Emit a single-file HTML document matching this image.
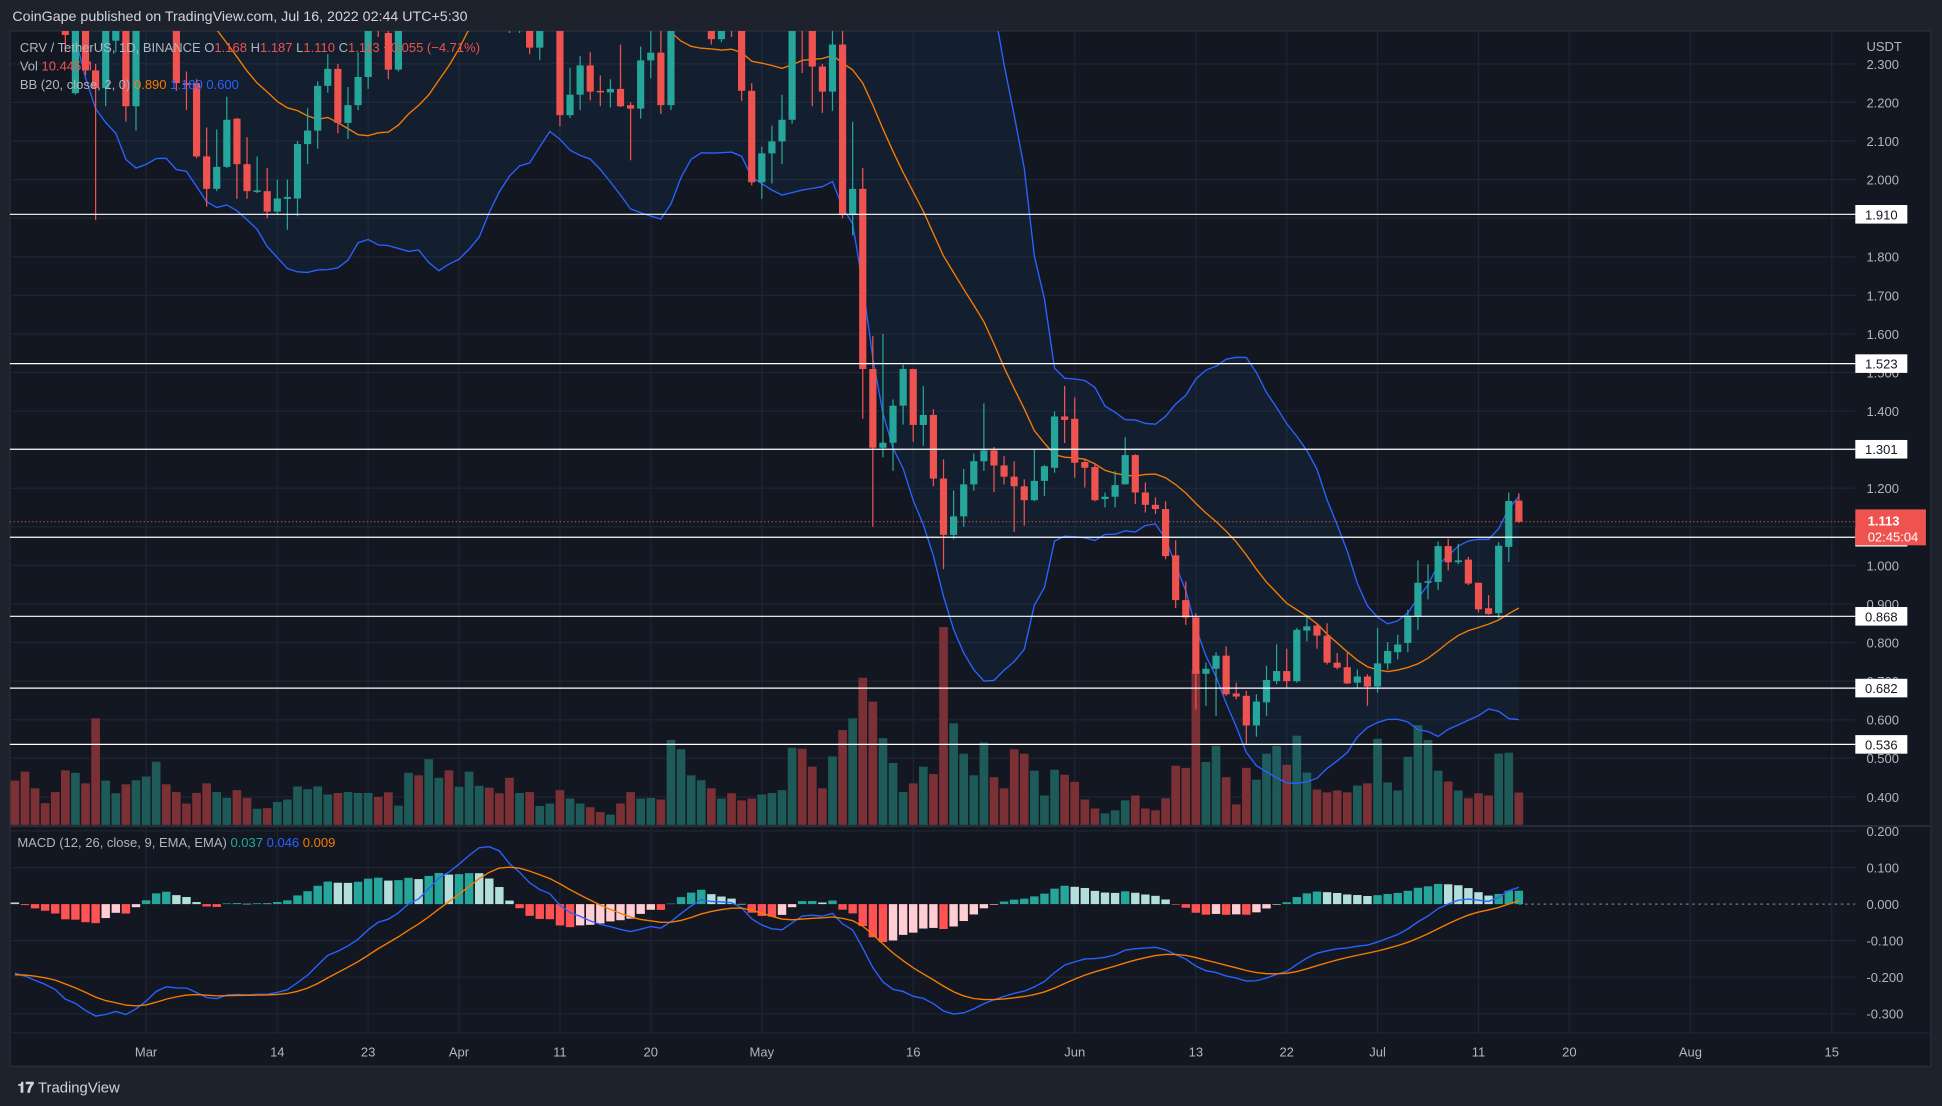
<!DOCTYPE html>
<html><head><meta charset="utf-8">
<style>
html,body{margin:0;padding:0;background:#1e222d;}
svg{display:block;font-family:"Liberation Sans",sans-serif;}
</style></head>
<body>
<svg id="chart" width="1942" height="1106" viewBox="0 0 1568 893" xmlns="http://www.w3.org/2000/svg">
<defs>
<clipPath id="pclip"><rect x="8" y="25" width="1490" height="642"/></clipPath>
<clipPath id="mclip"><rect x="8" y="667" width="1490" height="167"/></clipPath>
</defs>
<rect x="0" y="0" width="1568" height="893" fill="#1e222d"/>
<text x="10" y="17" fill="#d1d4dc" font-size="11.5">CoinGape published on TradingView.com, Jul 16, 2022 02:44 UTC+5:30</text>
<rect x="8" y="25" width="1551" height="836" fill="#131722" stroke="#2a2e39" stroke-width="1"/>
<g id="grid"></g>
<g id="volume" clip-path="url(#pclip)"></g>
<g id="bb" clip-path="url(#pclip)"></g>
<g id="candles" clip-path="url(#pclip)"></g>
<line x1="8" y1="667" x2="1559" y2="667" stroke="#2a2e39" stroke-width="1.5"/>
<g id="macd" clip-path="url(#mclip)"></g>
<g id="axes"></g>
<g id="levels"></g>
<g font-size="10.5">
<text x="16" y="42" fill="#b2b5be">CRV / TetherUS, 1D, BINANCE <tspan fill="#b2b5be">O</tspan><tspan fill="#ef5350">1.168</tspan> <tspan fill="#b2b5be">H</tspan><tspan fill="#ef5350">1.187</tspan> <tspan fill="#b2b5be">L</tspan><tspan fill="#ef5350">1.110</tspan> <tspan fill="#b2b5be">C</tspan><tspan fill="#ef5350">1.113</tspan> <tspan fill="#ef5350">−0.055 (−4.71%)</tspan></text>
<text x="16" y="57" fill="#b2b5be">Vol <tspan fill="#ef5350">10.445M</tspan></text>
<text x="16" y="72" fill="#b2b5be">BB (20, close, 2, 0) <tspan fill="#f57c00">0.890</tspan> <tspan fill="#2962ff">1.180</tspan> <tspan fill="#2962ff">0.600</tspan></text>
</g>
<text x="14" y="684" font-size="10.5" fill="#b2b5be">MACD (12, 26, close, 9, EMA, EMA) <tspan fill="#26a69a">0.037</tspan> <tspan fill="#2962ff">0.046</tspan> <tspan fill="#f57c00">0.009</tspan></text>
<text x="14" y="882" font-size="12" fill="#d1d4dc" font-weight="bold">𝟏𝟕 <tspan font-weight="normal">TradingView</tspan></text>
</svg>
<script>
const opens=[3.05,2.95,2.85,2.75,2.70,2.60,2.224,2.42,2.283,2.237,2.36,2.42,2.19,2.42,2.50,2.58,2.45,2.25,2.25,2.06,1.976,2.033,2.158,2.04,1.968,1.97,1.917,1.95,1.951,2.092,2.127,2.243,2.287,2.147,2.193,2.266,2.40,2.38,2.285,2.42,2.55,2.48,2.70,2.80,2.72,2.85,2.95,3.00,2.85,2.70,2.40,2.45,2.342,2.42,2.45,2.167,2.22,2.296,2.23,2.226,2.235,2.193,2.184,2.309,2.329,2.193,2.45,2.55,2.58,2.45,2.364,2.42,2.45,2.23,1.993,2.068,2.099,2.155,2.50,2.45,2.293,2.228,2.35,1.908,1.976,1.509,1.305,1.318,1.414,1.509,1.364,1.39,1.225,1.079,1.127,1.21,1.27,1.298,1.259,1.23,1.205,1.169,1.219,1.253,1.386,1.38,1.268,1.255,1.172,1.178,1.21,1.286,1.189,1.157,1.146,1.026,0.91,0.865,0.719,0.732,0.766,0.668,0.662,0.585,0.645,0.70,0.726,0.70,0.831,0.844,0.818,0.748,0.736,0.696,0.712,0.686,0.746,0.775,0.799,0.868,0.955,0.957,1.05,1.008,1.015,0.955,0.889,0.876,1.048,1.168];
const highs=[3.12,3.0,2.92,2.80,2.74,2.62,2.48,2.46,2.30,2.45,2.44,2.44,2.45,2.55,2.62,2.60,2.47,2.28,2.26,2.135,2.13,2.215,2.16,2.11,2.06,2.03,2.0,2.0,2.10,2.185,2.255,2.325,2.30,2.24,2.33,2.45,2.45,2.40,2.44,2.60,2.60,2.75,2.85,2.84,2.90,3.00,3.05,3.02,2.88,2.72,2.50,2.47,2.41,2.50,2.47,2.29,2.32,2.33,2.27,2.26,2.35,2.20,2.345,2.39,2.40,2.50,2.60,2.62,2.65,2.45,2.42,2.46,2.48,2.25,2.085,2.14,2.22,2.45,2.55,2.47,2.30,2.39,2.40,2.15,2.03,1.595,1.60,1.43,1.52,1.51,1.465,1.405,1.275,1.194,1.25,1.29,1.42,1.307,1.283,1.27,1.223,1.30,1.26,1.399,1.465,1.435,1.275,1.266,1.189,1.244,1.332,1.288,1.215,1.176,1.166,1.065,0.958,0.876,0.748,0.775,0.79,0.696,0.675,0.666,0.74,0.795,0.784,0.838,0.872,0.85,0.85,0.773,0.773,0.73,0.718,0.838,0.801,0.82,0.885,1.013,1.003,1.062,1.069,1.056,1.022,0.955,0.923,1.06,1.189,1.187];
const lows=[2.92,2.80,2.72,2.62,2.55,2.33,2.22,2.27,1.895,2.19,2.33,2.15,2.127,2.40,2.45,2.43,2.23,2.18,2.055,1.93,1.97,2.03,1.95,1.95,1.965,1.90,1.91,1.87,1.905,2.04,2.08,2.225,2.12,2.105,2.18,2.235,2.37,2.26,2.28,2.40,2.44,2.46,2.66,2.66,2.70,2.82,2.90,2.80,2.66,2.38,2.38,2.325,2.31,2.40,2.138,2.16,2.18,2.205,2.19,2.187,2.188,2.05,2.158,2.263,2.17,2.18,2.43,2.48,2.50,2.35,2.356,2.37,2.204,1.985,1.95,1.99,2.04,2.145,2.276,2.19,2.173,2.178,1.90,1.855,1.38,1.10,1.28,1.245,1.365,1.32,1.31,1.205,0.99,1.068,1.10,1.193,1.245,1.19,1.21,1.087,1.103,1.166,1.18,1.24,1.317,1.227,1.202,1.166,1.15,1.15,1.21,1.159,1.137,1.133,1.016,0.889,0.846,0.627,0.636,0.61,0.662,0.653,0.538,0.556,0.61,0.692,0.683,0.696,0.803,0.784,0.743,0.73,0.692,0.683,0.636,0.67,0.73,0.756,0.775,0.832,0.912,0.936,0.987,1.003,0.949,0.878,0.872,0.863,1.009,1.110];
const closes=[2.95,2.85,2.75,2.70,2.60,2.375,2.45,2.283,2.237,2.40,2.42,2.19,2.42,2.50,2.58,2.45,2.25,2.245,2.06,1.976,2.033,2.155,2.04,1.97,1.972,1.917,1.951,1.955,2.092,2.127,2.243,2.287,2.147,2.193,2.266,2.40,2.395,2.285,2.42,2.55,2.48,2.70,2.80,2.72,2.85,2.95,3.00,2.85,2.70,2.40,2.46,2.342,2.40,2.45,2.167,2.22,2.296,2.228,2.226,2.235,2.19,2.184,2.309,2.329,2.193,2.45,2.55,2.58,2.60,2.364,2.40,2.39,2.23,1.993,2.068,2.099,2.155,2.41,2.45,2.293,2.228,2.35,1.908,1.976,1.509,1.305,1.318,1.414,1.509,1.364,1.39,1.225,1.079,1.127,1.21,1.27,1.298,1.259,1.23,1.205,1.169,1.219,1.257,1.386,1.377,1.266,1.253,1.169,1.178,1.208,1.286,1.189,1.157,1.146,1.024,0.91,0.865,0.719,0.732,0.766,0.666,0.66,0.585,0.647,0.703,0.726,0.70,0.833,0.842,0.818,0.748,0.735,0.694,0.712,0.686,0.746,0.778,0.795,0.868,0.955,0.959,1.05,1.008,1.013,0.953,0.886,0.874,1.051,1.167,1.113];
const volumes=[14.3,17.2,11.8,7.0,10.6,17.6,16.8,13.4,34.4,14.3,10.2,13.1,14.4,15.6,20.4,13.1,10.6,6.9,10.3,13.4,10.6,8.7,11.2,8.7,5.2,5.4,7.4,8.2,12.4,11.5,12.4,9.8,10.3,10.6,10.3,10.3,9.0,10.5,6.2,16.8,16.0,21.2,15.2,17.6,12.3,17.2,12.6,12.0,10.2,15.2,10.3,10.6,6.1,6.9,11.2,8.5,6.9,5.7,4.1,3.3,6.9,10.6,8.5,8.7,8.2,27.4,24.4,16.0,14.4,11.8,8.5,10.2,7.9,8.5,9.8,10.3,11.2,24.9,24.6,18.8,11.8,22.1,30.6,34.4,47.5,39.8,28.0,20.0,10.6,13.4,18.8,16.4,63.9,32.8,23.0,16.0,26.6,15.4,11.8,24.4,23.0,17.5,9.5,17.8,16.2,13.9,8.2,5.3,3.7,4.7,7.9,9.5,5.3,4.7,8.6,19.1,18.4,49.9,20.3,25.5,15.4,6.6,18.4,14.6,23.0,25.5,19.4,28.8,16.9,11.4,10.5,11.1,10.5,12.7,13.4,27.8,13.7,11.1,22.0,32.2,27.4,17.5,14.0,11.1,8.6,10.2,9.5,23.0,23.3,10.445];
// warm-up closes (Jan 2 - Feb 15) for indicator calculation only
const preCloses=[4.6,4.7,4.8,4.9,5.0,4.8,4.6,4.5,4.4,4.3,4.5,4.6,4.5,4.4,4.3,4.2,4.1,4.0,3.9,3.6,3.2,3.0,2.8,2.7,2.9,3.0,3.1,3.0,3.1,3.2,3.3,3.4,3.5,3.6,3.5,3.4,3.3,3.2,3.3,3.2,3.1,3.0,3.1,3.0,3.0];
const priceTicks=[2.3,2.2,2.1,2.0,1.9,1.8,1.7,1.6,1.5,1.4,1.3,1.2,1.1,1.0,0.9,0.8,0.7,0.6,0.5,0.4];
const macdTicks=[0.2,0.1,0,-0.1,-0.2,-0.3];
const levelValues=[1.910,1.523,1.301,1.073,0.868,0.682,0.536];
const dateLabels=["Mar","14","23","Apr","11","20","May","16","Jun","13","22","Jul","11","20","Aug","15"];
const dateOffsets=[13,26,35,44,54,63,74,89,105,117,126,135,145,154,166,180];
const lastPrice=1.113;

const NS="http://www.w3.org/2000/svg";
function mk(tag,attrs,parent){const e=document.createElementNS(NS,tag);for(const k in attrs)e.setAttribute(k,attrs[k]);parent.appendChild(e);return e;}
const xAt=i=>12+8.15*i;
const py=p=>145+(2.0-p)*311.5;
const my=v=>730-v*295;
const volY=v=>666-v*2.5;

const grid=document.getElementById('grid');
dateOffsets.forEach(d=>{const l=mk('line',{x1:xAt(d),x2:xAt(d),y1:25,y2:834,stroke:'#1f2433','stroke-width':1},grid);

});
priceTicks.forEach(p=>{const l=mk('line',{x1:8,x2:1498,y1:py(p),y2:py(p),stroke:'#1f2433','stroke-width':1},grid);

});
macdTicks.forEach(v=>{if(v===0)return;const l=mk('line',{x1:8,x2:1498,y1:my(v),y2:my(v),stroke:'#1f2433','stroke-width':1},grid);

});

// volume
const vg=document.getElementById('volume');
volumes.forEach((v,i)=>{const up=closes[i]>=opens[i];
const r=mk('rect',{x:xAt(i)-3.5,y:volY(v),width:7,height:666-volY(v),fill:up?'#1e5b58':'#7a3035'},vg);

});

// indicators
const all=preCloses.concat(closes);const off=preCloses.length;
const upper=[],lower=[],basis=[];
for(let i=0;i<closes.length;i++){const j=i+off;const w=all.slice(j-19,j+1);const m=w.reduce((a,b)=>a+b,0)/20;
const sd=Math.sqrt(w.reduce((a,b)=>a+(b-m)*(b-m),0)/20);basis.push(m);upper.push(m+2*sd);lower.push(m-2*sd);}
const bg=document.getElementById('bb');
let fillPts=upper.map((u,i)=>xAt(i)+','+py(u)).concat(lower.map((l,i)=>xAt(i)+','+py(l)).reverse());
const fp=mk('polygon',{points:fillPts.join(' '),fill:'rgba(33,150,243,0.06)'},bg);


[[upper,'#2962ff','bb-upper-line'],[lower,'#2962ff','bb-lower-line'],[basis,'#f57c00','bb-basis-line']].forEach(([arr,c,n])=>{
const pl=mk('polyline',{points:arr.map((v,i)=>xAt(i)+','+py(v)).join(' '),fill:'none',stroke:c,'stroke-width':1.1},bg);

});

// candles
const cg=document.getElementById('candles');
closes.forEach((c,i)=>{const o=opens[i];const up=c>=o;const col=up?'#26a69a':'#ef5350';const x=xAt(i);
const g=mk('g',{},cg);


mk('line',{x1:x,x2:x,y1:py(highs[i]),y2:py(lows[i]),stroke:col,'stroke-width':1},g);
const top=py(Math.max(o,c)),bot=py(Math.min(o,c));
mk('rect',{x:x-2.9,y:top,width:5.8,height:Math.max(1,bot-top),fill:col},g);});

// MACD
function ema(arr,n){const k=2/(n+1);const out=[];let e=arr[0];arr.forEach((v,i)=>{e=i===0?v:v*k+e*(1-k);out.push(e);});return out;}
const e12=ema(all,12),e26=ema(all,26);const macdAll=e12.map((v,i)=>v-e26[i]);const sigAll=ema(macdAll,9);
const macdLine=macdAll.slice(off),sigLine=sigAll.slice(off);const hist=macdLine.map((v,i)=>v-sigLine[i]);
const mg=document.getElementById('macd');
const zl=mk('line',{x1:xAt(149),x2:1498,y1:my(0),y2:my(0),stroke:'#787b86','stroke-width':1,'stroke-dasharray':'2,3'},mg);


hist.forEach((h,i)=>{const prev=i>0?hist[i-1]:h;let col;
if(h>=0)col=h>prev?'#26a69a':'#b2dfdb';else col=h<prev?'#ff5252':'#ffcdd2';
const y0=my(0),y1=my(h);
const r=mk('rect',{x:xAt(i)-3.4,y:Math.min(y0,y1),width:6.8,height:Math.max(0.5,Math.abs(y1-y0)),fill:col},mg);

});
const ml=mk('polyline',{points:macdLine.map((v,i)=>xAt(i)+','+my(v)).join(' '),fill:'none',stroke:'#2962ff','stroke-width':1.1},mg);


const sl=mk('polyline',{points:sigLine.map((v,i)=>xAt(i)+','+my(v)).join(' '),fill:'none',stroke:'#f57c00','stroke-width':1.1},mg);



// axes
const ax=document.getElementById('axes');
const usdt=mk('text',{x:1507,y:41,fill:'#b2b5be','font-size':10.5},ax);usdt.textContent='USDT';


priceTicks.forEach(p=>{const t=mk('text',{x:1507,y:py(p)+4,fill:'#b2b5be','font-size':10.5},ax);t.textContent=p.toFixed(3);

});
macdTicks.forEach(v=>{const t=mk('text',{x:1507,y:my(v)+4,fill:'#b2b5be','font-size':10.5},ax);t.textContent=(v<0?'-':'')+Math.abs(v).toFixed(3);

});
dateLabels.forEach((d,k)=>{const t=mk('text',{x:xAt(dateOffsets[k]),y:853,fill:'#b2b5be','font-size':10.5,'text-anchor':'middle'},ax);t.textContent=d;

});
const tsep=mk('line',{x1:8,x2:1559,y1:834,y2:834,stroke:'#1f2433','stroke-width':1},ax);



// levels
const lv=document.getElementById('levels');
const lp=mk('line',{x1:8,x2:1498,y1:py(lastPrice),y2:py(lastPrice),stroke:'#ef5350','stroke-width':0.8,'stroke-dasharray':'1,2'},lv);


levelValues.forEach(v=>{const g=mk('g',{},lv);


mk('line',{x1:8,x2:1498,y1:py(v),y2:py(v),stroke:'#ffffff','stroke-width':1},g);
mk('rect',{x:1498,y:py(v)-7.5,width:42,height:15,fill:'#ffffff'},g);
const t=mk('text',{x:1519,y:py(v)+4,fill:'#131722','font-size':10.5,'text-anchor':'middle'},g);t.textContent=v.toFixed(3);});
const pb=mk('g',{},lv);


mk('rect',{x:1498,y:py(lastPrice)-10,width:57,height:29,fill:'#ef5350'},pb);
const t1=mk('text',{x:1508,y:py(lastPrice)+3,fill:'#ffffff','font-size':10.5,'font-weight':'bold'},pb);t1.textContent=lastPrice.toFixed(3);
const t2=mk('text',{x:1508,y:py(lastPrice)+16,fill:'#ffffff','font-size':10.5},pb);t2.textContent='02:45:04';
</script>
</body></html>
